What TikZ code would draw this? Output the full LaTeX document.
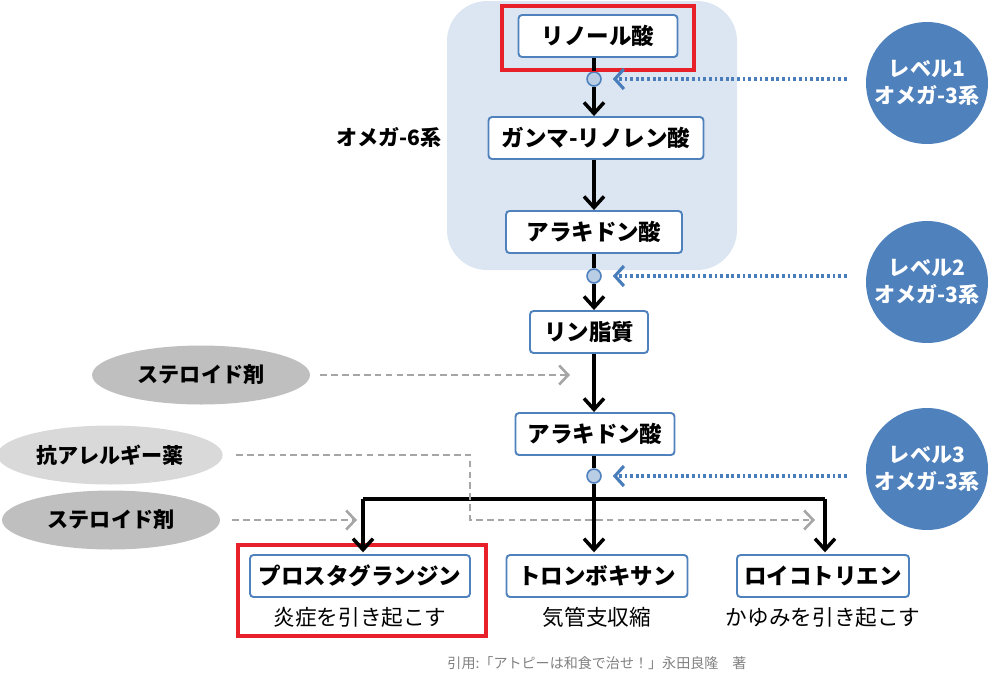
\documentclass[tikz,border=0pt]{standalone}
\usepackage{fontspec}
\setmainfont{Noto Sans CJK JP}
\usepackage{xcolor}
\usepackage{tikz}
\usetikzlibrary{arrows.meta, positioning, shapes.geometric}

\definecolor{boxblue}{HTML}{4F81BD}
\definecolor{bgblue}{HTML}{DCE6F2}
\definecolor{dotblue}{HTML}{B9CDE5}
\definecolor{hintblue}{HTML}{4A7EBB}
\definecolor{drugdark}{HTML}{BFBFBF}
\definecolor{druglight}{HTML}{D9D9D9}
\definecolor{dashgray}{HTML}{A6A6A6}
\definecolor{markred}{HTML}{E8202A}

\begin{document}
\begin{tikzpicture}[x=0.02cm, y=-0.02cm,
  acid/.style={draw=boxblue, line width=1.1pt, fill=white, rounded corners=2pt,
    minimum height=0.84cm, font=\bfseries\fontsize{12.8}{15}\selectfont},
  level/.style={circle, fill=boxblue, text=white, minimum size=2.44cm,
    inner sep=0pt, align=center, font=\bfseries\fontsize{12}{15}\selectfont},
  drug/.style={ellipse, minimum width=4.36cm, minimum height=1.18cm,
    font=\bfseries\fontsize{12}{14}\selectfont},
  junction/.style={circle, draw=boxblue, fill=dotblue, line width=0.9pt,
    minimum size=0.28cm, inner sep=0pt},
  path/.style={line width=2pt},
  flow/.style={line width=2pt, -{Straight Barb[length=2.2mm, width=4mm]}},
  hint/.style={hintblue, line width=1.8pt, dash pattern=on 1.6pt off 1.6pt,
    -{Straight Barb[length=1.8mm, width=4mm]}},
  block/.style={dashgray, line width=1.5pt, dash pattern=on 3.8pt off 2.4pt,
    -{Straight Barb[length=1.8mm, width=3.8mm]}},
  effect/.style={font=\fontsize{12.3}{14}\selectfont}]
\useasboundingbox (0,0) rectangle (1000,684);

% Omega-6 area
\fill[bgblue, rounded corners=0.8cm] (447,1) rectangle (737,270);
\node[font=\bfseries\fontsize{12}{14}\selectfont] (omega6) at (389,137) {オメガ-6系};

\node[acid, minimum width=3.18cm] (linoleic) at (598,36) {リノール酸};
\node[junction] (j1) at (594,79) {};
\node[acid, minimum width=4.3cm] (gla) at (596,138) {ガンマ-リノレン酸};
\node[acid, minimum width=3.52cm] (ara1) at (594,232) {アラキドン酸};
\node[junction] (j2) at (594,276) {};
\node[acid, minimum width=2.36cm] (phos) at (589,332) {リン脂質};
\node[acid, minimum width=3.18cm] (ara2) at (595,434) {アラキドン酸};
\node[junction] (j3) at (594,476) {};

% Products
\node[acid, minimum width=4.4cm] (pg) at (360,576) {プロスタグランジン};
\node[acid, minimum width=3.62cm] (tx) at (597,576) {トロンボキサン};
\node[acid, minimum width=3.44cm] (lt) at (823,576) {ロイコトリエン};
\node[effect, below=0.06cm of pg] (pgnote) {炎症を引き起こす};
\node[effect, below=0.06cm of tx] (txnote) {気管支収縮};
\node[effect, below=0.06cm of lt] (ltnote) {かゆみを引き起こす};

% Red marks
\draw[markred, line width=2.2pt] (502,6) rectangle (694,70);
\draw[markred, line width=2.2pt] (238,545) rectangle (486,636);

% Omega-3 levels
\node[level] (level1) at (927,83) {レベル1\\オメガ-3系};
\node[level] (level2) at (927,282) {レベル2\\オメガ-3系};
\node[level] (level3) at (927,469) {レベル3\\オメガ-3系};

% Drugs
\node[drug, fill=drugdark] (steroid1) at (201,375) {ステロイド剤};
\node[drug, fill=druglight] (allergy) at (110,455) {抗アレルギー薬};
\node[drug, fill=drugdark] (steroid2) at (111,520) {ステロイド剤};

% Main path
\draw[path] (linoleic.south -| j1) -- (j1);
\draw[flow] (j1) -- (j1 |- gla.north);
\draw[flow] (gla.south -| j1) -- (j1 |- ara1.north);
\draw[path] (ara1.south -| j2) -- (j2);
\draw[flow] (j2) -- (j2 |- phos.north);
\draw[flow] (phos.south -| j2) -- (j2 |- ara2.north);
\coordinate (split) at (594,499);
\coordinate (leftend) at (363,499);
\coordinate (rightend) at (825,499);
\draw[path] (ara2.south -| j3) -- (j3) -- (split);
\draw[path] (leftend) -- (rightend);
\draw[flow, shorten >=1pt] (leftend) -- (leftend |- pg.north);
\draw[flow, shorten >=1pt] (split) -- (split |- tx.north);
\draw[flow, shorten >=1pt] (rightend) -- (rightend |- lt.north);

% Blocking
\draw[hint, shorten <=0.38cm, shorten >=0.22cm] (j1 -| level1.west) -- (j1);
\draw[hint, shorten <=0.38cm, shorten >=0.22cm] (j2 -| level2.west) -- (j2);
\draw[hint, shorten <=0.38cm, shorten >=0.22cm] (j3 -| level3.west) -- (j3);
\draw[block, shorten <=0.2cm, shorten >=0.38cm] (steroid1.east) -- (steroid1 -| phos);
\coordinate (bend) at (470,520);
\coordinate (ltin) at (815,520);
\draw[block] ([xshift=0.26cm]allergy.east) -| (bend) -- (ltin);
\draw[block, shorten <=0.24cm, shorten >=0.12cm] (steroid2.east) -- (steroid2 -| leftend);

\node[text=gray, font=\fontsize{8}{10}\selectfont] (cite) at (597,663) {引用:「アトピーは和食で治せ！」永田良隆　著};
\end{tikzpicture}
\end{document}
